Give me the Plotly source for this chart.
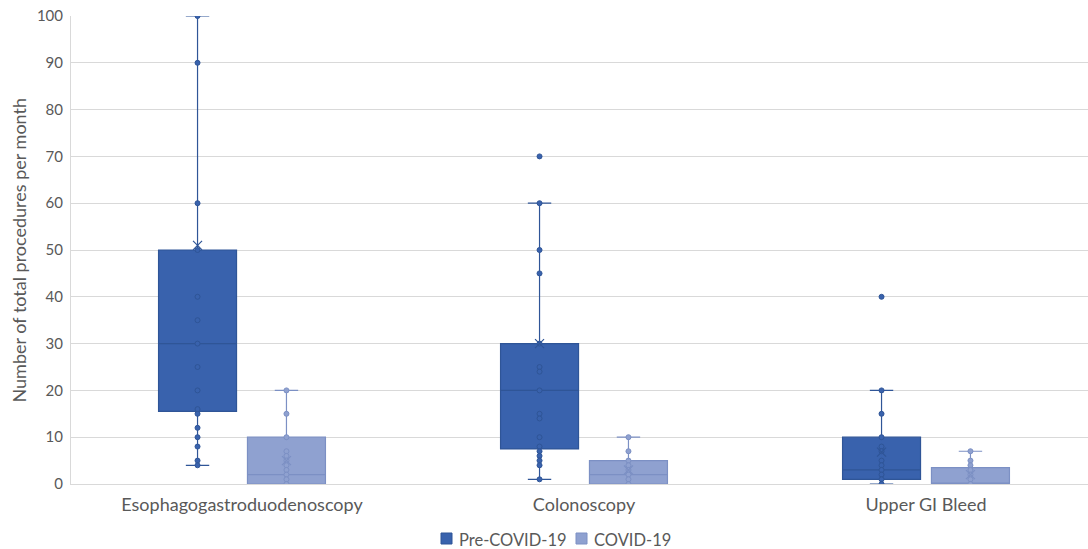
import plotly.graph_objects as go

categories = ["Esophagogastroduodenoscopy", "Colonoscopy", "Upper GI Bleed"]
series = ["Pre-COVID-19", "COVID-19"]
y_title = "Number of total procedures per month"

# Box statistics
pre_q1 = [15.5, 7.5, 1]
pre_median = [30, 20, 3]
pre_q3 = [50, 30, 10]
pre_lower = [4, 1, 0]
pre_upper = [100, 60, 20]
pre_mean = [51, 30, 6.8]

covid_q1 = [0, 0, 0]
covid_median = [2, 2, 0]
covid_q3 = [10, 5, 3.5]
covid_lower = [0, 0, 0]
covid_upper = [20, 10, 7]
covid_mean = [5, 3, 2]

# Individual data points
pre_egd = [100, 90, 60, 50, 40, 35, 30, 25, 20, 16, 15, 12, 10, 8, 5, 4]
pre_col = [70, 60, 50, 45, 30, 25, 24, 20, 15, 14, 10, 8, 7, 6, 5, 4, 1]
pre_ugib = [40, 20, 15, 10, 8, 7, 5, 4, 3, 2, 1, 0]
covid_egd = [20, 15, 10, 7, 6, 5, 4, 3, 2, 1, 0]
covid_col = [10, 7, 5, 4, 3, 2, 1, 0]
covid_ugib = [7, 5, 4, 3, 2, 1, 0]

pre_points = [pre_egd, pre_col, pre_ugib]
covid_points = [covid_egd, covid_col, covid_ugib]

PRE_FILL = "#3962AD"
PRE_LINE = "#2F5597"
COV_FILL = "#8FA1D0"
COV_LINE = "#7C90C4"

OFFSET = 0.13
BOXW = 0.228

fig = go.Figure()

specs = [
    (series[0], -OFFSET, pre_q1, pre_median, pre_q3, pre_lower, pre_upper, pre_mean, pre_points, PRE_FILL, PRE_LINE),
    (series[1], OFFSET, covid_q1, covid_median, covid_q3, covid_lower, covid_upper, covid_mean, covid_points, COV_FILL, COV_LINE),
]

for name, off, q1, med, q3, lo, up, mn, pts, fill, line in specs:
    xs = [i + off for i in range(len(categories))]
    fig.add_trace(go.Box(
        name=name, x=xs, q1=q1, median=med, q3=q3, lowerfence=lo, upperfence=up,
        width=BOXW, fillcolor=fill, line=dict(color=line, width=1.2),
        whiskerwidth=0.3, boxpoints=False, showlegend=False,
        hoverinfo="skip",
    ))
    px, py = [], []
    for i, arr in enumerate(pts):
        px += [i + off] * len(arr)
        py += arr
    fig.add_trace(go.Scatter(
        x=px, y=py, mode="markers", showlegend=False,
        marker=dict(size=5, color=fill, line=dict(color=line, width=1)),
    ))
    fig.add_trace(go.Scatter(
        x=xs, y=mn, mode="markers", showlegend=False,
        marker=dict(symbol="x-thin-open", size=9, color=line, line=dict(color=line, width=1.2)),
    ))

PLOT_L, PLOT_R, PLOT_T, PLOT_B = 71, 1088, 16, 484
PLOT_W, PLOT_H = PLOT_R - PLOT_L, PLOT_B - PLOT_T
def px2x(p):
    return (p - PLOT_L) / PLOT_W
def py2y(p):
    return (PLOT_B - p) / PLOT_H

# Manual legend (Excel style: small square + text)
legend_items = [(series[0], PRE_FILL, PRE_LINE, 441), (series[1], COV_FILL, COV_LINE, 576)]
for name, fill, line, sx in legend_items:
    fig.add_shape(type="rect", xref="paper", yref="paper",
                  x0=px2x(sx), x1=px2x(sx + 11), y0=py2y(544), y1=py2y(533),
                  fillcolor=fill, line=dict(color=line, width=1))
    fig.add_annotation(text=name, xref="paper", yref="paper", x=px2x(sx + 16), y=py2y(539.5),
                       xanchor="left", yanchor="middle", showarrow=False,
                       font=dict(size=16.5, color="#595959"))

# Y axis title
fig.add_annotation(text=y_title, xref="paper", yref="paper", x=px2x(18.5), y=0.5,
                   xanchor="center", yanchor="middle", textangle=-90, showarrow=False,
                   font=dict(size=18, color="#595959"))

# category spacing ~342 px (the chart's category axis runs slightly past the right edge)
CAT_PX = 342.0
x_max = -0.5 + PLOT_W / CAT_PX

FONT = "Lato, 'Open Sans', sans-serif"
fig.update_layout(
    width=1088, height=549,
    margin=dict(l=PLOT_L, r=1088 - PLOT_R, t=PLOT_T, b=549 - PLOT_B),
    paper_bgcolor="white", plot_bgcolor="white",
    font=dict(family=FONT, color="#595959"),
    showlegend=False,
    xaxis=dict(range=[-0.5, x_max], tickvals=[0, 1, 2], ticktext=categories,
               showgrid=False, zeroline=False, showline=True, linecolor="#d9d9d9",
               tickfont=dict(size=18, color="#595959"), ticks="", automargin=False,
               ticklabelstandoff=4),
    yaxis=dict(range=[0, 100], dtick=10, showgrid=True, gridcolor="#d9d9d9",
               zeroline=False, showline=True, linecolor="#d9d9d9", automargin=False,
               tickfont=dict(size=15, color="#595959"), ticklabelstandoff=4,
               ticklabeloverflow="allow"),
)

fig.write_html(
    "out.html",
    config={"displayModeBar": False},
    post_script="document.body.style.margin='0';document.body.style.overflow='hidden';",
)
